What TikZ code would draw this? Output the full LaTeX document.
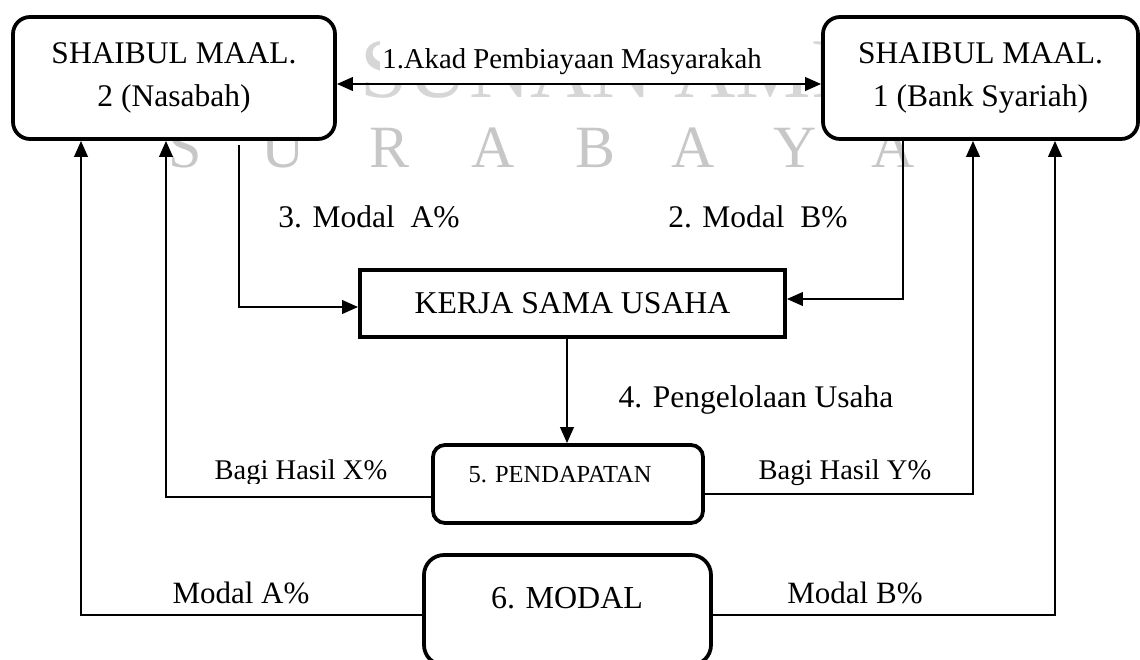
\documentclass[tikz,border=0pt]{standalone}
\usepackage{fontspec}
\setmainfont{Liberation Serif}
\usetikzlibrary{arrows.meta}
\begin{document}
\begin{tikzpicture}[x=0.4pt,y=-0.4pt,
  tip/.tip={Triangle[length=6.4pt,width=5.4pt]},
  conn/.style={line width=0.95pt,-tip},
  dconn/.style={line width=0.95pt,tip-tip},
  bigbox/.style={draw,line width=1.5pt,fill=white,rounded corners=6.8pt,inner sep=0pt},
  mainfont/.style={font=\fontsize{12.6}{17.2}\selectfont},
  lblfont/.style={font=\fontsize{11.5}{13}\selectfont,inner sep=0pt},
  wm/.style={text=black!22,font=\fontsize{24}{24}\selectfont,inner sep=0pt}]
\useasboundingbox (0,0) rectangle (1140,660);
% watermark
\begin{scope}
  \clip (340,30) rectangle (822,100);
  \node[wm,text=black!16,font=\fontsize{34}{34}\selectfont,anchor=base west] (wmtop) at (360,97) {SUNAN AMPEL};
\end{scope}
\foreach \ch/\xx [count=\i] in {S/185,U/283,R/390,A/493,B/596,A/693,Y/795,A/893}
  \node[wm,anchor=base] (wm\i) at (\xx,167) {\ch};
\fill[white] (380,36) rectangle (810,83);
% label of the contract
\node[lblfont] (a1) at (572,62) {1.Akad Pembiayaan Masyarakah};
% boxes
\node[bigbox,minimum width=128.8pt,minimum height=48.8pt,mainfont,align=center] (L) at (174,78) {SHAIBUL MAAL.\\2 (Nasabah)};
\node[bigbox,minimum width=126pt,minimum height=48.8pt,mainfont,align=center] (R) at (980.5,78) {SHAIBUL MAAL.\\1 (Bank Syariah)};
\node[draw,line width=1.5pt,fill=white,minimum width=170pt,minimum height=26.8pt,inner sep=0pt,font=\fontsize{12.7}{14}\selectfont] (K) at (572.5,303.5) {KERJA SAMA USAHA};
\node[bigbox,rounded corners=4.8pt,minimum width=108pt,minimum height=31.2pt] (P) at (568,484) {};
\node[inner sep=0pt,font=\fontsize{9.8}{11}\selectfont] (Pt) at (560,475) {5. PENDAPATAN};
\node[bigbox,rounded corners=8pt,minimum width=114.8pt,minimum height=44pt] (M) at (567.5,610) {};
\node[inner sep=0pt,font=\fontsize{12.8}{14}\selectfont] (Mt) at (567,598) {6. MODAL};
% connectors
\draw[dconn] (L.east |- 0,84) -- (R.west |- 0,84);
\coordinate (c3) at (239,145);
\draw[conn] (c3) |- (K.west |- 0,307);
\draw[conn] (R.south -| 903,0) |- (K.east |- 0,299);
\draw[conn] (K.south -| 567,0) -- (P.north -| 567,0);
\draw[conn] (P.west |- 0,497) -| (L.south -| 166,0);
\draw[conn] (P.east |- 0,494) -| (R.south -| 973,0);
\draw[conn] (M.west |- 0,615) -| (L.south -| 81,0);
\draw[conn] (M.east |- 0,615) -| (R.south -| 1055,0);
% labels
\node[mainfont,inner sep=0pt] (l3) at (369,217) {3. Modal\ \ A\%};
\node[mainfont,inner sep=0pt] (l2) at (758,217) {2. Modal\ \ B\%};
\node[mainfont,inner sep=0pt] (l4) at (756,400) {4. Pengelolaan Usaha};
\begin{scope}
  \clip (150,440) rectangle (420,483);
  \node[font=\fontsize{11.4}{13}\selectfont,inner sep=0pt] (bx) at (301,473) {Bagi Hasil X\%};
\end{scope}
\node[font=\fontsize{11.4}{13}\selectfont,inner sep=0pt] (by) at (845,473) {Bagi Hasil Y\%};
\node[font=\fontsize{12.4}{14}\selectfont,inner sep=0pt] (ma) at (241,593) {Modal A\%};
\node[font=\fontsize{12.4}{14}\selectfont,inner sep=0pt] (mb) at (855,593) {Modal B\%};
\end{tikzpicture}
\end{document}
